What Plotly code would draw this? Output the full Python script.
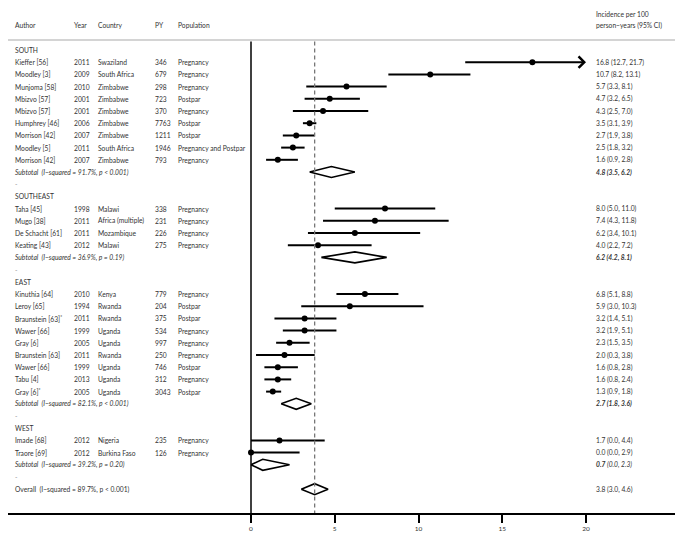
import plotly.graph_objects as go

# ---------------- data ----------------
regions = ["SOUTH", "SOUTHEAST", "EAST", "WEST"]

south_author = ["Kieffer [56]", "Moodley [3]", "Munjoma [58]", "Mbizvo [57]", "Mbizvo [57]",
                "Humphrey [46]", "Morrison [42]", "Moodley [5]", "Morrison [42]"]
south_year = [2011, 2009, 2010, 2001, 2001, 2006, 2007, 2011, 2007]
south_country = ["Swaziland", "South Africa", "Zimbabwe", "Zimbabwe", "Zimbabwe",
                 "Zimbabwe", "Zimbabwe", "South Africa", "Zimbabwe"]
south_py = [346, 679, 298, 723, 370, 7763, 1211, 1946, 793]
south_pop = ["Pregnancy", "Pregnancy", "Pregnancy", "Postpar", "Pregnancy",
             "Postpar", "Postpar", "Pregnancy and Postpar", "Pregnancy"]
south_est = [16.8, 10.7, 5.7, 4.7, 4.3, 3.5, 2.7, 2.5, 1.6]
south_lo = [12.7, 8.2, 3.3, 3.2, 2.5, 3.1, 1.9, 1.8, 0.9]
south_hi = [21.7, 13.1, 8.1, 6.5, 7.0, 3.9, 3.8, 3.2, 2.8]

southeast_author = ["Taha [45]", "Mugo [38]", "De Schacht [61]", "Keating [43]"]
southeast_year = [1998, 2011, 2011, 2012]
southeast_country = ["Malawi", "Africa (multiple)", "Mozambique", "Malawi"]
southeast_py = [338, 231, 226, 275]
southeast_pop = ["Pregnancy", "Pregnancy", "Pregnancy", "Pregnancy"]
southeast_est = [8.0, 7.4, 6.2, 4.0]
southeast_lo = [5.0, 4.3, 3.4, 2.2]
southeast_hi = [11.0, 11.8, 10.1, 7.2]

east_author = ["Kinuthia [64]", "Leroy [65]", "Braunstein [63]<sup>*</sup>", "Wawer [66]", "Gray [6]",
               "Braunstein [63]", "Wawer [66]", "Tabu [4]", "Gray [6]<sup>*</sup>"]
east_year = [2010, 1994, 2011, 1999, 2005, 2011, 1999, 2013, 2005]
east_country = ["Kenya", "Rwanda", "Rwanda", "Uganda", "Uganda", "Rwanda", "Uganda", "Uganda", "Uganda"]
east_py = [779, 204, 375, 534, 997, 250, 746, 312, 3043]
east_pop = ["Pregnancy", "Postpar", "Postpar", "Pregnancy", "Pregnancy",
            "Pregnancy", "Postpar", "Pregnancy", "Postpar"]
east_est = [6.8, 5.9, 3.2, 3.2, 2.3, 2.0, 1.6, 1.6, 1.3]
east_lo = [5.1, 3.0, 1.4, 1.9, 1.5, 0.3, 0.8, 0.8, 0.9]
east_hi = [8.8, 10.3, 5.1, 5.1, 3.5, 3.8, 2.8, 2.4, 1.8]

west_author = ["Imade [68]", "Traore [69]"]
west_year = [2012, 2012]
west_country = ["Nigeria", "Burkina Faso"]
west_py = [235, 126]
west_pop = ["Pregnancy", "Pregnancy"]
west_est = [1.7, 0.0]
west_lo = [0.0, 0.0]
west_hi = [4.4, 2.9]

subtotal_i2 = ["91.7%", "36.9%", "82.1%", "39.2%"]
subtotal_p = ["p < 0.001", "p = 0.19", "p < 0.001", "p = 0.20"]
subtotal_est = [4.8, 6.2, 2.7, 0.7]
subtotal_lo = [3.5, 4.2, 1.8, 0.0]
subtotal_hi = [6.2, 8.1, 3.6, 2.3]

overall_i2 = "89.7%"
overall_p = "p < 0.001"
overall_est = 3.8
overall_lo = 3.0
overall_hi = 4.6

x_ticks = [0, 5, 10, 15, 20]
x_clip = 20

groups = [
    (south_author, south_year, south_country, south_py, south_pop, south_est, south_lo, south_hi),
    (southeast_author, southeast_year, southeast_country, southeast_py, southeast_pop, southeast_est, southeast_lo, southeast_hi),
    (east_author, east_year, east_country, east_py, east_pop, east_est, east_lo, east_hi),
    (west_author, west_year, west_country, west_py, west_pop, west_est, west_lo, west_hi),
]

# ---------------- layout geometry (target pixels; page body adds 8px offset) ----------------
OFF = 8
WIN_W, WIN_H = 683, 537
W, H = WIN_W - OFF, WIN_H - OFF
AX_LEFT_PX, AX_RIGHT_PX, AX_Y_PX = 5, 675, 513      # target-window pixels
ML = max(AX_LEFT_PX - OFF, 0)
MR = WIN_W - AX_RIGHT_PX
MT = 0
MB = WIN_H - AX_Y_PX
PW = W - ML - MR
PH = H - MT - MB
X0_PX, X20_PX = 251, 586
ppu = (X20_PX - X0_PX) / 20.0
plot_left_px = OFF + ML
plot_right_px = OFF + ML + PW
xr = [(plot_left_px - X0_PX) / ppu, (plot_right_px - X0_PX) / ppu]

ROW0_PX = 50.0
ROW_H = 12.2


def row_of(px):
    return 1 + (px - ROW0_PX) / ROW_H


yr = [row_of(OFF + MT + PH), row_of(OFF + MT)]  # reversed


def xp(px):
    return (px - plot_left_px) / PW


COL_AUTHOR, COL_YEAR, COL_COUNTRY, COL_PY, COL_POP, COL_EST = 14, 73, 97, 154, 177, 595
FONT = "Lato, Arial, sans-serif"
FS = 6.7
TXT = "#333333"

annotations = []


def txt(px, row, s, size=FS, color=TXT):
    annotations.append(dict(x=xp(px), y=row, xref="paper", yref="y", text=s, showarrow=False,
                            xanchor="left", yanchor="middle", xshift=-1,
                            font=dict(family=FONT, size=size, color=color)))


def fmt(e, l, h):
    return f"{e:.1f} ({l:.1f}, {h:.1f})"


# header
hdr_row = row_of(25.3)
for px, s in [(COL_AUTHOR, "Author"), (COL_YEAR, "Year"), (COL_COUNTRY, "Country"),
              (COL_PY, "PY"), (COL_POP, "Population")]:
    txt(px, hdr_row, s)
txt(COL_EST, row_of(14), "Incidence per 100")
txt(COL_EST, row_of(25.3), "person\u2212years (95% CI)")

ci_x, ci_y, pt_x, pt_y = [], [], [], []
dia_x, dia_y = [], []
arrows = []
DH = 0.45

row = 1
for gi, g in enumerate(groups):
    author, year, country, py, pop, est, lo, hi = g
    txt(COL_AUTHOR, row, regions[gi])
    row += 1
    for k in range(len(author)):
        txt(COL_AUTHOR, row, author[k])
        txt(COL_YEAR, row, str(year[k]))
        txt(COL_COUNTRY, row, country[k])
        txt(COL_PY, row, str(py[k]))
        txt(COL_POP, row, pop[k])
        txt(COL_EST, row, fmt(est[k], lo[k], hi[k]))
        if hi[k] > x_clip:
            arrows.append((lo[k], row))
        else:
            ci_x += [lo[k], hi[k], None]
            ci_y += [row, row, None]
        pt_x.append(est[k])
        pt_y.append(row)
        row += 1
    txt(COL_AUTHOR, row, f"<i>Subtotal  (I\u2212squared = {subtotal_i2[gi]}, {subtotal_p[gi]})</i>")
    se, sl, sh = subtotal_est[gi], subtotal_lo[gi], subtotal_hi[gi]
    if sl == 0.0:
        txt(COL_EST, row, f"<b><i>{se:.1f}</i></b><i> ({sl:.1f}, {sh:.1f})</i>")
    else:
        txt(COL_EST, row, f"<b><i>{fmt(se, sl, sh)}</i></b>")
    dia_x += [sl, se, sh, se, sl, None]
    dia_y += [row, row - DH, row, row + DH, row, None]
    row += 1
    txt(COL_AUTHOR, row, "-", color="#999999")
    row += 1

txt(COL_AUTHOR, row, f"Overall  (I\u2212squared = {overall_i2}, {overall_p})")
txt(COL_EST, row, fmt(overall_est, overall_lo, overall_hi))
dia_x += [overall_lo, overall_est, overall_hi, overall_est, overall_lo, None]
dia_y += [row, row - DH, row, row + DH, row, None]

fig = go.Figure()
fig.add_trace(go.Scatter(x=ci_x, y=ci_y, mode="lines", line=dict(color="black", width=2),
                         hoverinfo="skip", showlegend=False))
fig.add_trace(go.Scatter(x=dia_x, y=dia_y, mode="lines", line=dict(color="black", width=1.6),
                         hoverinfo="skip", showlegend=False))
fig.add_trace(go.Scatter(x=pt_x, y=pt_y, mode="markers",
                         marker=dict(color="black", size=6, symbol="circle"),
                         showlegend=False))

for lo_v, r in arrows:
    annotations.append(dict(x=x_clip, y=r, ax=lo_v, ay=r, xref="x", yref="y", axref="x", ayref="y",
                            showarrow=True, arrowhead=4, arrowsize=1.1, arrowwidth=2,
                            arrowcolor="black", text=""))

shapes = [
    dict(type="line", xref="paper", yref="y", x0=0, x1=1, y0=row_of(40), y1=row_of(40),
         line=dict(color="#aaaaaa", width=1.2)),
    dict(type="line", xref="x", yref="y", x0=0, x1=0, y0=row_of(41.5), y1=yr[0],
         line=dict(color="black", width=1.5)),
    dict(type="line", xref="x", yref="y", x0=overall_est, x1=overall_est, y0=row_of(41.5), y1=yr[0],
         line=dict(color="#777777", width=1.3, dash="4px,3px")),
]

fig.update_layout(
    width=W, height=H,
    margin=dict(l=ML, r=MR, t=MT, b=MB, pad=0),
    paper_bgcolor="white", plot_bgcolor="white",
    font=dict(family=FONT, size=FS, color=TXT),
    annotations=annotations, shapes=shapes,
    xaxis=dict(range=xr, tickvals=x_ticks, ticktext=[str(t) for t in x_ticks],
               showgrid=False, zeroline=False, showline=True, linecolor="black", linewidth=2,
               ticks="outside", ticklen=8, tickwidth=2, tickcolor="black",
               tickfont=dict(family=FONT, size=6.5, color=TXT)),
    yaxis=dict(range=yr, visible=False, showgrid=False, zeroline=False),
    showlegend=False,
)

fig.write_html("out.html")
